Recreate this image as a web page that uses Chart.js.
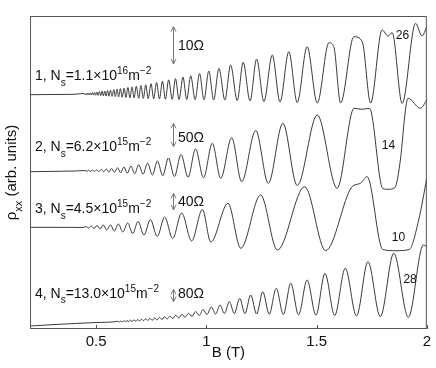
<!DOCTYPE html>
<html>
<head>
<meta charset="utf-8">
<script src="https://cdn.jsdelivr.net/npm/chart.js@4.4.1/dist/chart.umd.min.js"></script>
<style>
  html, body { margin: 0; padding: 0; background: #fff; }
  #wrap { width: 436px; height: 368px; }
</style>
</head>
<body>
<div id="wrap"><canvas id="c" width="436" height="368"></canvas></div>
<script>
const FONT = '"Liberation Sans", Arial, sans-serif';

// x axis
const xTicks = [0.5, 1, 1.5, 2];

// rho_xx traces, [B (T), rho (arb. units)]
const curve1 = [
  [0.2,234.3],[0.3,234.5],[0.4,234.7],
  [0.445,235.5],[0.45,234.3],[0.454,235.7],[0.459,234.2],[0.463,235.9],[0.468,234.1],[0.473,236.1],[0.478,234.0],
  [0.483,236.4],[0.488,233.9],[0.493,236.7],[0.498,233.8],[0.504,237.0],[0.509,233.6],[0.515,237.3],[0.521,233.4],
  [0.527,237.7],[0.533,233.2],[0.539,238.0],[0.545,233.0],[0.552,238.4],[0.558,232.8],[0.565,238.8],[0.572,232.6],
  [0.580,239.3],[0.587,232.4],[0.595,239.8],[0.602,232.1],[0.610,240.3],[0.618,231.8],[0.627,240.9],[0.635,231.5],
  [0.644,241.5],[0.653,231.2],[0.663,242.1],[0.672,231.0],[0.682,242.8],[0.693,230.8],[0.703,243.4],[0.714,230.6],
  [0.725,244.2],[0.736,230.4],[0.749,245.3],[0.761,230.2],[0.774,246.5],[0.787,230.0],[0.801,247.8],[0.814,229.8],
  [0.829,249.1],[0.845,229.6],[0.860,250.4],[0.876,229.5],[0.894,251.8],[0.911,229.4],[0.929,253.2],[0.949,229.3],
  [0.969,255.5],[0.989,229.2],[1.011,258.0],[1.033,229.0],[1.057,260.7],[1.084,229.0],[1.110,264.0],[1.140,228.5],
  [1.167,266.7],[1.198,228.0],[1.228,270.0],[1.261,227.5],[1.299,274.0],[1.334,227.0],[1.374,277.3],[1.412,226.5],
  [1.457,282.3],[1.503,226.0],[1.556,286.3],[1.578,282.3],[1.609,226.0],[1.669,292.3],[1.707,287.3],[1.745,226.0],
  [1.797,299.0],[1.824,293.0],[1.843,296.3],[1.888,225.5],[1.949,305.7],[1.978,293.0],[2.0,302.3]
];

const curve2 = [
  [0.2,157.3],[0.3,157.6],[0.4,158.0],
  [0.450,158.4],[0.458,157.8],[0.466,158.6],[0.475,157.7],[0.484,158.9],[0.493,157.5],[0.503,159.2],[0.513,157.4],
  [0.524,159.6],[0.534,157.2],[0.546,160.0],[0.558,157.0],[0.570,160.6],[0.583,156.6],[0.597,161.3],[0.611,156.2],
  [0.626,162.0],[0.641,155.8],[0.658,163.0],[0.675,155.3],[0.693,164.3],[0.713,154.8],[0.733,166.0],[0.755,154.0],
  [0.778,168.0],[0.802,153.3],[0.828,171.0],[0.855,152.5],[0.885,174.5],[0.917,151.8],[0.951,180.0],[0.987,151.2],
  [1.027,185.7],[1.065,150.7],[1.115,191.3],[1.160,147.3],[1.224,198.5],[1.281,145.7],[1.347,205.7],[1.412,143.5],
  [1.503,214.0],[1.593,140.7],[1.670,220.7],[1.705,219.7],[1.740,220.7],[1.800,140.5],[1.825,139.7],[1.855,141.5],
  [1.880,169.0],[1.903,219.0],[1.915,230.7],[1.971,220.7],[2.0,229.0]
];

const curve3 = [
  [0.2,101.7],[0.3,101.7],[0.4,101.6],[0.44,101.5],
  [0.454,102.5],[0.466,101.0],[0.478,103.0],[0.490,100.5],[0.504,103.5],[0.518,100.0],[0.532,104.0],[0.548,99.0],
  [0.565,104.2],[0.582,98.0],[0.601,105.0],[0.621,97.0],[0.643,106.0],[0.666,95.5],[0.690,107.5],[0.717,94.0],
  [0.746,109.5],[0.777,92.5],[0.811,112.0],[0.847,90.5],[0.888,116.0],[0.933,88.0],[0.982,119.5],[1.020,87.0],
  [1.098,125.7],[1.156,80.7],[1.246,134.0],[1.322,79.0],[1.446,142.3],[1.541,78.3],[1.661,142.3],[1.699,145.7],
  [1.729,152.3],[1.800,79.5],[1.858,78.3],[1.920,79.5],[1.963,109.0],[2.0,151.0]
];

const curve4 = [
  [0.2,3.0],[0.3,4.3],[0.4,5.5],[0.5,6.5],[0.59,7.4],
  [0.598,7.8],[0.605,7.0],[0.611,8.0],[0.618,7.1],[0.625,8.2],[0.633,7.3],[0.640,8.5],[0.648,7.4],[0.655,8.8],
  [0.663,7.5],[0.671,9.1],[0.680,7.8],[0.688,9.4],[0.697,8.0],[0.706,9.8],[0.715,8.3],[0.725,10.2],[0.734,8.5],
  [0.744,10.6],[0.755,8.8],[0.765,11.1],[0.776,9.0],[0.787,11.6],[0.799,9.5],[0.810,12.2],[0.822,10.0],[0.835,12.9],
  [0.848,10.5],[0.861,13.7],[0.875,11.0],[0.889,14.6],[0.904,11.8],[0.919,15.7],[0.935,12.5],[0.951,17.5],[0.968,13.5],
  [0.985,19.5],[1.003,14.5],[1.022,22.0],[1.042,15.0],[1.062,24.0],[1.082,15.5],[1.104,27.3],[1.127,15.5],[1.151,30.7],
  [1.175,15.3],[1.201,34.0],[1.228,15.0],[1.256,37.3],[1.285,14.8],[1.317,40.7],[1.349,14.5],[1.383,45.7],[1.418,14.2],
  [1.457,49.0],[1.497,13.8],[1.538,55.7],[1.582,13.5],[1.630,60.7],[1.681,13.0],[1.733,67.3],[1.789,12.3],[1.850,75.7],
  [1.916,11.7],[1.984,84.0],[2.0,82.5]
];

// sample labels (B, rho of text baseline start)
const sampleLabels = [
  { at: [0.2226, 249.0], parts: [['1, N'], ['s', 'sub'], ['=1.1×10'], ['16', 'sup'], ['m'], ['−2', 'sup']] },
  { at: [0.2226, 177.7], parts: [['2, N'], ['s', 'sub'], ['=6.2×10'], ['15', 'sup'], ['m'], ['−2', 'sup']] },
  { at: [0.2226, 116.0], parts: [['3, N'], ['s', 'sub'], ['=4.5×10'], ['15', 'sup'], ['m'], ['−2', 'sup']] },
  { at: [0.2226, 31.5],  parts: [['4, N'], ['s', 'sub'], ['=13.0×10'], ['15', 'sup'], ['m'], ['−2', 'sup']] }
];

// resistance scale bars: B, rho top, rho bottom, label
const barB = 0.8484;
const barTop = [302.3, 205.7, 135.7, 39.7];
const barBottom = [265.0, 182.3, 119.0, 27.3];
const barText = ['10Ω', '50Ω', '40Ω', '80Ω'];
const barTextAt = [279.0, 187.3, 123.0, 31.0];

// filling factors
const nuText = ['26', '14', '10', '28'];
const nuAt = [[1.8593, 289.7], [1.7959, 179.7], [1.8412, 88.0], [1.8937, 46.3]];

function richText(ctx, parts, x, y, size, align) {
  const small = Math.round(size * 0.72);
  const seg = parts.map(([t, kind]) => ({
    t, s: kind ? small : size, dy: kind === 'sub' ? size * 0.42 : kind === 'sup' ? -size * 0.42 : 0
  }));
  let w = 0;
  seg.forEach(p => { ctx.font = p.s + 'px ' + FONT; w += ctx.measureText(p.t).width; });
  let cx = align === 'center' ? x - w / 2 : x;
  seg.forEach(p => {
    ctx.font = p.s + 'px ' + FONT;
    ctx.fillText(p.t, cx, y + p.dy);
    cx += ctx.measureText(p.t).width;
  });
}

const overlay = {
  id: 'overlay',
  afterDraw(chart) {
    const { ctx, chartArea: a, scales: { x, y } } = chart;
    ctx.save();
    ctx.strokeStyle = '#555';
    ctx.lineWidth = 1;
    ctx.strokeRect(a.left + 0.5, a.top + 0.5, a.right - a.left - 1, a.bottom - a.top - 1);

    // inward ticks
    ctx.beginPath();
    xTicks.forEach(t => {
      const px = Math.round(x.getPixelForValue(t)) + 0.5;
      ctx.moveTo(px, a.bottom);
      ctx.lineTo(px, a.bottom - 4);
    });
    ctx.stroke();

    ctx.fillStyle = '#111';
    ctx.textBaseline = 'alphabetic';
    ctx.textAlign = 'left';
    sampleLabels.forEach(l => {
      richText(ctx, l.parts, x.getPixelForValue(l.at[0]), y.getPixelForValue(l.at[1]), 14, 'left');
    });

    // scale bars
    const bx = Math.round(x.getPixelForValue(barB)) + 0.5;
    ctx.strokeStyle = '#777';
    barTop.forEach((t, i) => {
      const y1 = y.getPixelForValue(t), y2 = y.getPixelForValue(barBottom[i]);
      ctx.beginPath();
      ctx.moveTo(bx, y1); ctx.lineTo(bx, y2);
      ctx.moveTo(bx - 2.5, y1 + 5); ctx.lineTo(bx, y1); ctx.lineTo(bx + 2.5, y1 + 5);
      ctx.moveTo(bx - 2.5, y2 - 5); ctx.lineTo(bx, y2); ctx.lineTo(bx + 2.5, y2 - 5);
      ctx.stroke();
      ctx.font = '14px ' + FONT;
      ctx.fillText(barText[i], bx + 4.5, y.getPixelForValue(barTextAt[i]));
    });

    ctx.font = '12px ' + FONT;
    nuText.forEach((t, i) => {
      ctx.fillText(t, x.getPixelForValue(nuAt[i][0]), y.getPixelForValue(nuAt[i][1]));
    });

    // y axis title
    ctx.translate(15.5, (a.top + a.bottom) / 2);
    ctx.rotate(-Math.PI / 2);
    richText(ctx, [['ρ'], ['xx', 'sub'], [' (arb. units)']], 0, 0, 15, 'center');
    ctx.restore();
  }
};

const toPts = arr => arr.map(p => ({ x: p[0], y: p[1] }));

new Chart(document.getElementById('c'), {
  type: 'line',
  data: {
    datasets: [curve1, curve2, curve3, curve4].map(c => ({
      data: toPts(c),
      borderColor: '#3a3a3a',
      borderWidth: 1,
      pointRadius: 0,
      cubicInterpolationMode: 'monotone',
      fill: false
    }))
  },
  options: {
    responsive: false,
    animation: false,
    layout: { padding: { left: 30, top: 16, right: 8, bottom: 0 } },
    plugins: { legend: { display: false }, tooltip: { enabled: false } },
    scales: {
      x: {
        type: 'linear',
        min: 0.2,
        max: 2,
        afterBuildTicks: s => { s.ticks = xTicks.map(v => ({ value: v })); },
        afterFit: s => { s.height = 39; },
        grid: { display: false, drawTicks: false },
        border: { display: false },
        ticks: {
          font: { family: FONT, size: 15, lineHeight: 1 },
          color: '#111',
          padding: 5,
          maxRotation: 0,
          callback: v => String(v)
        },
        title: {
          display: true,
          text: 'B (T)',
          color: '#111',
          font: { family: FONT, size: 15, lineHeight: 1 },
          padding: { top: 0, bottom: 8 }
        }
      },
      y: { display: false, min: 0, max: 313 }
    }
  },
  plugins: [overlay]
});
</script>
</body>
</html>
